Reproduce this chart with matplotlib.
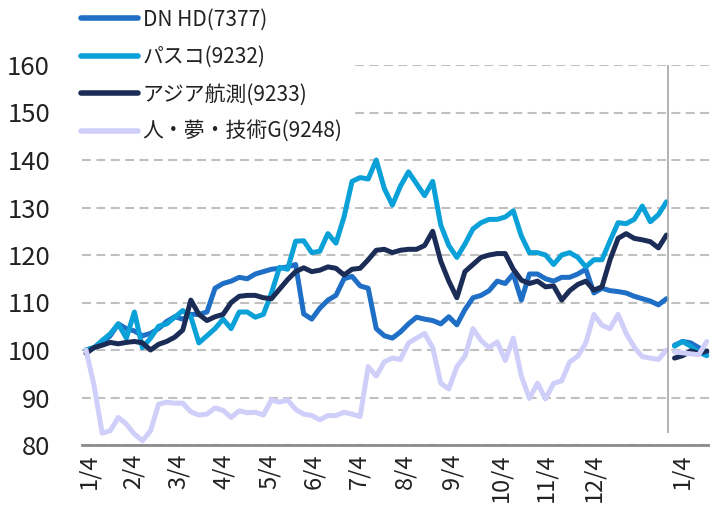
import matplotlib
matplotlib.use('Agg')
import matplotlib.pyplot as plt
import numpy as np

plt.rcParams['font.family'] = ['Noto Sans CJK JP', 'DejaVu Sans']

# x tick labels (trading-day category axis)
tick_labels = ['1/4', '2/4', '3/4', '4/4', '5/4', '6/4', '7/4', '8/4', '9/4',
               '10/4', '11/4', '12/4', '1/4']
tick_pos = [0.3, 5.8, 11.4, 17.1, 22.7, 28.2, 33.9, 39.6, 45.4, 51.4, 57.1, 63.0, 73.9]

names = ['DN HD(7377)', 'パスコ(9232)', 'アジア航測(9233)', '人・夢・技術G(9248)']
colors = ['#1f6fc6', '#0aa0d8', '#1b2d57', '#cfcffa']

# first year (index 100 at start)
dn_hd = [100, 100.5, 101.5, 103, 105.5, 104.5, 104, 103, 103.5, 104.5,
         106, 107, 106.5, 107.5, 107.5, 108, 113, 114, 114.5, 115.3,
         115, 116, 116.5, 117, 117.2, 117.5, 118, 107.6, 106.5, 108.8,
         110.5, 111.5, 115, 115.5, 113.5, 113, 104.5, 103, 102.5, 103.8,
         105.5, 106.9, 106.5, 106.2, 105.5, 107, 105.3, 108.5, 111, 111.5,
         112.5, 114.5, 114, 116, 110.5, 116, 116, 115, 114.5, 115.3,
         115.3, 116, 117, 112, 113, 112.5, 112.3, 112, 111.3, 110.8,
         110.3, 109.5, 110.8]
pasco = [100, 100.5, 102, 103.4, 105.5, 102.5, 108, 100.5, 102.5, 105,
         105.5, 106.9, 108.3, 107, 101.5, 103, 104.5, 106.5, 104.5, 108,
         108, 106.9, 107.5, 112, 117.4, 117, 122.9, 123, 120.5, 120.8,
         124.5, 122.5, 128, 135.5, 136.3, 136, 140, 134, 130.5, 134.5,
         137.5, 135, 132.5, 135.5, 126.3, 122, 119.5, 122.3, 125.5, 126.8,
         127.5, 127.5, 128, 129.3, 124, 120.5, 120.5, 120, 118, 120,
         120.5, 119.5, 117.5, 119, 119, 123, 126.8, 126.6, 127.5, 130.3,
         127, 128.5, 131.2]
asia = [99.3, 100.5, 101, 101.6, 101.3, 101.6, 101.8, 101.5, 100, 101.2,
        101.8, 102.7, 104.2, 110.5, 107.5, 106.2, 107, 107.5, 110, 111.3,
        111.5, 111.5, 111, 110.8, 112.8, 114.8, 116.5, 117.3, 116.5, 116.8,
        117.5, 117.2, 115.8, 117, 117.2, 119, 121, 121.2, 120.5, 121,
        121.2, 121.2, 122, 125, 118.7, 114.5, 111, 116.5, 118, 119.5,
        120, 120.3, 120.3, 117, 114.7, 114, 114.5, 113.3, 113.5, 110.5,
        112.5, 113.8, 114.5, 112.6, 113.3, 119, 123.5, 124.5, 123.5, 123.2,
        122.8, 121.5, 124.2]
hito = [100, 92.5, 82.5, 83, 85.8, 84.4, 82.3, 80.9, 83, 88.6,
        89, 88.8, 88.8, 87, 86.3, 86.5, 87.8, 87.3, 85.8, 87.2,
        86.8, 86.9, 86.3, 89.5, 89, 89.5, 87.5, 86.5, 86.2, 85.3,
        86.2, 86.2, 86.9, 86.5, 86, 96.5, 94.5, 97.5, 98.3, 98,
        101.5, 102.5, 103.5, 100.5, 93, 91.8, 96.5, 98.7, 104.5, 102,
        100.5, 101.7, 97.8, 102.5, 94.5, 89.8, 93, 89.7, 93, 93.5,
        97.5, 98.7, 101.5, 107.5, 105.2, 104.5, 107.5, 103.5, 100.6, 98.6,
        98.3, 98, 100]

# next year (re-based to 100)
dn_hd_next = [101, 101.8, 101.5, 100.5, 99.5]
pasco_next = [100.8, 101.8, 100.8, 99.5, 98.8]
asia_next = [98.3, 98.8, 99.8, 99.3, 99.8]
hito_next = [99.6, 99.4, 99.2, 99, 101.8]

series = [dn_hd, pasco, asia, hito]
series_next = [dn_hd_next, pasco_next, asia_next, hito_next]

fig = plt.figure(figsize=(7.1, 5.16), dpi=100)
ax = fig.add_axes([82 / 710, 71 / 516, 628 / 710, 380 / 516])

x1 = np.arange(len(dn_hd))
x2 = np.arange(len(dn_hd), len(dn_hd) + len(dn_hd_next))
for main, nxt, name, c in zip(series, series_next, names, colors):
    ax.plot(x1, main, color=c, lw=3.6, label=name,
            solid_capstyle='round', solid_joinstyle='round')
    ax.plot(x2, nxt, color=c, lw=3.6,
            solid_capstyle='round', solid_joinstyle='round')

# year separator
ax.vlines(len(dn_hd) - 0.8, 82.5, 160, color='#a6a6a6', lw=1.2)

ax.set_ylim(80, 160)
ax.set_xlim(-0.5, 77.4)
ax.set_yticks(range(80, 161, 10))
ax.yaxis.grid(True, ls=(0, (4.3, 2.6)), color='#c0c0c0', lw=1.5)
ax.set_axisbelow(True)
for s in ['top', 'right', 'left']:
    ax.spines[s].set_visible(False)
ax.spines['bottom'].set_color('#8c8c8c')
ax.spines['bottom'].set_linewidth(2)

ax.set_xticks(tick_pos)
ax.set_xticklabels(tick_labels, rotation=90, fontsize=17, color='#222222')
ax.tick_params(axis='y', length=0, pad=23, labelsize=18.5, labelcolor='#222222')
ax.tick_params(axis='x', length=0, pad=6)

leg = ax.legend(loc='upper left', bbox_to_anchor=(73 / 710, 1.0),
                bbox_transform=fig.transFigure, fontsize=15, frameon=True,
                facecolor='white', edgecolor='none', framealpha=1,
                handlelength=2.7, handletextpad=0.25, labelspacing=0.75,
                borderpad=0.4, borderaxespad=0, fancybox=False)
for t in leg.get_texts():
    t.set_color('#222222')
for h in leg.get_lines():
    h.set_linewidth(4)

fig.savefig('out.png')
